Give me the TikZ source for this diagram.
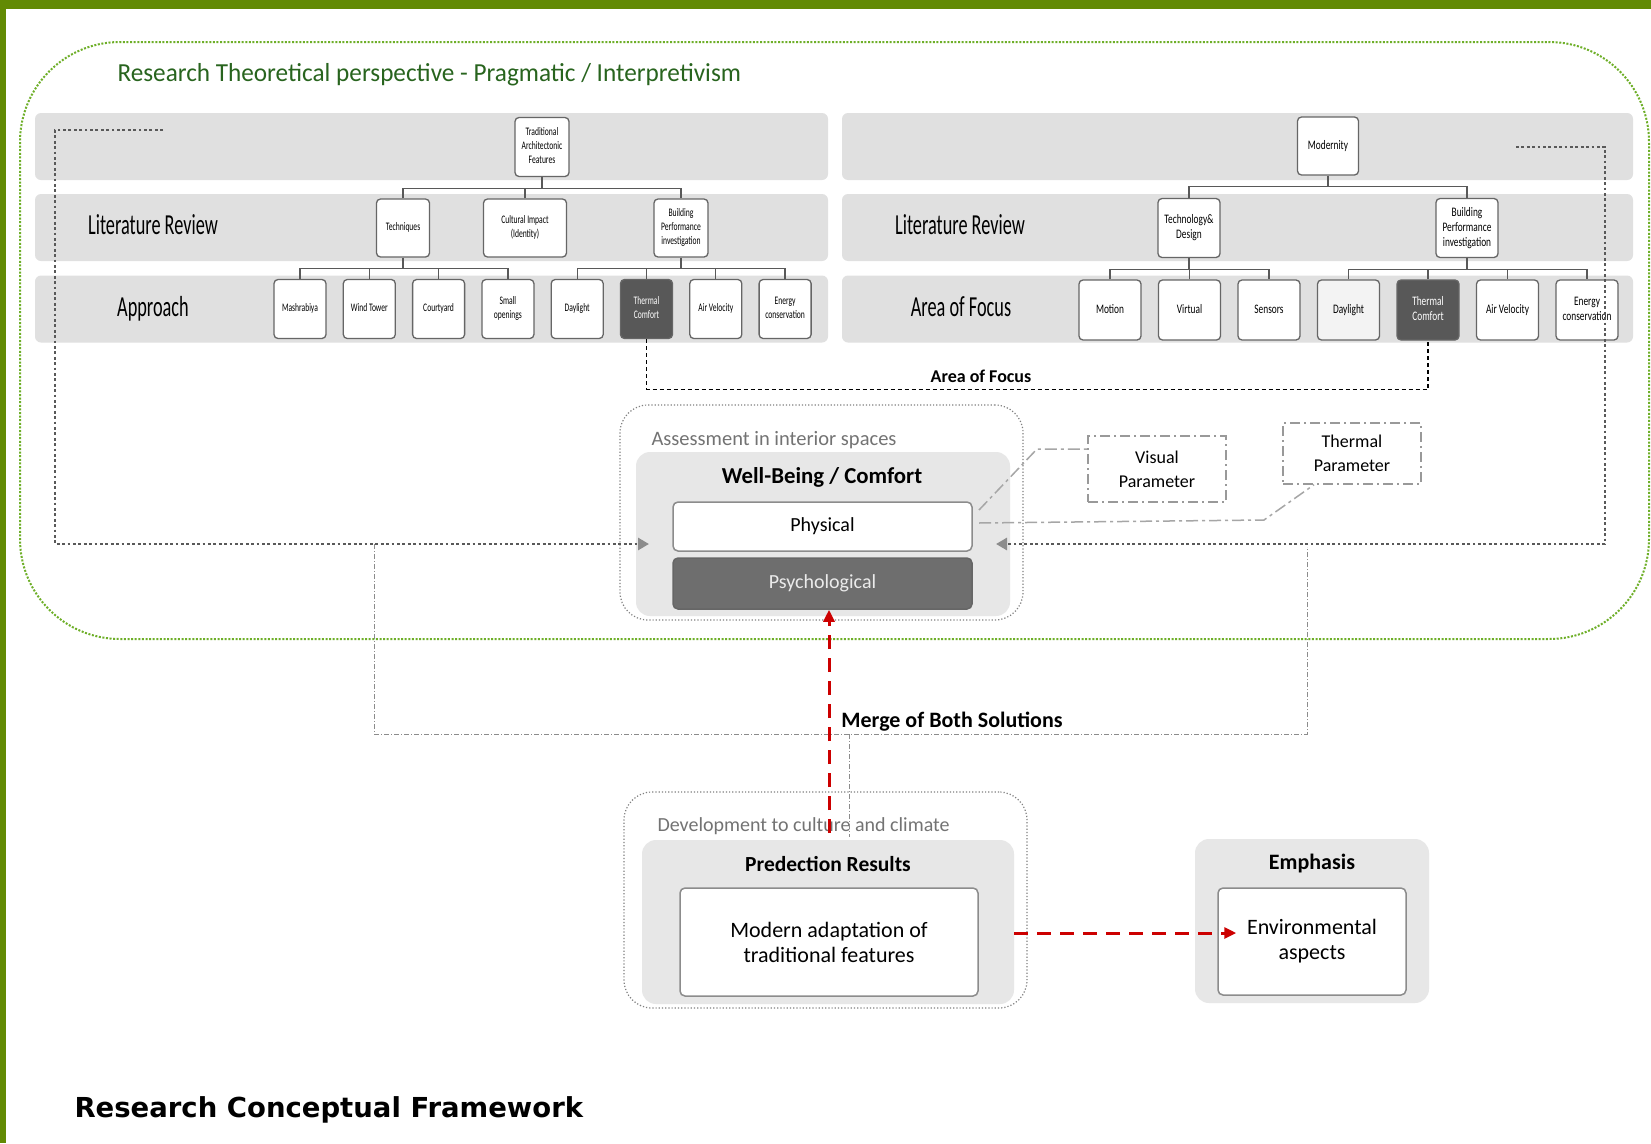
\documentclass[tikz,border=0pt]{standalone}
\usepackage{fontspec}
\setmainfont{Carlito}
\newfontfamily\captionfont{DejaVu Sans}
\usepackage{graphicx}
\usetikzlibrary{positioning,arrows.meta}

\definecolor{framegreen}{RGB}{98,138,4}
\definecolor{dotgreen}{RGB}{110,175,40}
\definecolor{titlegreen}{RGB}{40,100,30}
\definecolor{bandgray}{RGB}{224,224,224}
\definecolor{boxgray}{RGB}{231,231,231}
\definecolor{darkbox}{RGB}{88,88,88}
\definecolor{lightbox}{RGB}{243,243,243}
\definecolor{psychgray}{RGB}{110,110,110}
\definecolor{mergered}{RGB}{204,0,0}

\newcommand{\cond}[2][0.66]{\scalebox{#1}[1]{\begin{tabular}{@{}c@{}}#2\end{tabular}}}

\begin{document}
\begin{tikzpicture}[x=1pt, y=-1pt,
        band/.style={fill=bandgray, rounded corners=6, inner sep=0, minimum height=67},
        leaf/.style={draw=black!60, fill=white, rounded corners=4, line width=1.3, inner sep=0, minimum width=52, minimum height=59, font=\fontsize{11.5}{14}\selectfont},
        leafR/.style={leaf, minimum width=62, minimum height=60, font=\fontsize{13}{15}\selectfont},
        tree/.style={draw=black!65, line width=1.3},
        rowlabel/.style={font=\fontsize{29}{34}\selectfont},
        outerbox/.style={draw=black!50, dotted, line width=1.2, rounded corners=28, inner sep=0},
        graybg/.style={fill=boxgray, rounded corners=14, inner sep=0},
        whitebox/.style={draw=black!45, fill=white, line width=1.5, rounded corners=5, inner sep=0, align=center},
        parambox/.style={draw=black!40, line width=1.5, dash pattern=on 10pt off 4pt on 2pt off 4pt, inner sep=0, align=center, font=\fontsize{18}{24}\selectfont},
        param/.style={draw=black!35, line width=1.5, dash pattern=on 12pt off 4pt on 3pt off 4pt},
        bigdot/.style={draw=black!65, line width=2.8, dash pattern=on 2.8pt off 2.6pt, -{Triangle[length=11pt, width=12pt, color=black!45]}},
        mergeline/.style={draw=black!45, line width=0.9, dash pattern=on 5pt off 2pt on 1pt off 2pt},
        focusline/.style={draw=black, line width=1.3, dash pattern=on 4pt off 3pt},
        redarrow/.style={draw=mergered, line width=3, dash pattern=on 14pt off 9pt, -{Triangle[length=12pt, width=11pt]}},
        boldlabel/.style={font=\bfseries\fontsize{22}{26}\selectfont}
    ]

    \useasboundingbox (0,0) rectangle (1651,1143);
    \fill[white] (0,0) rectangle (1651,1143);
    \fill[framegreen] (0,0) rectangle (1651,9);
    \fill[framegreen] (0,0) rectangle (6,1143);

    % Theoretical perspective
    \draw[dotgreen, line width=2, dash pattern=on 2pt off 1.6pt, rounded corners=100] (20,42) rectangle (1649,639);
    \node[anchor=west, text=titlegreen, font=\fontsize{26}{31}\selectfont] (title) at (114,75) {\scalebox{0.97}[1]{Research Theoretical perspective - Pragmatic / Interpretivism}};

    % Bands
    \foreach \r/\y in {1/146.5, 2/227.5, 3/309} {
        \node[band, minimum width=793] (bandL\r) at (431.5,\y) {};
        \node[band, minimum width=791] (bandR\r) at (1237.5,\y) {};
    }
    \node[rowlabel] (litL) at (153,228) {\cond[0.63]{Literature Review}};
    \node[rowlabel] (appr) at (153,310) {\cond[0.63]{Approach}};
    \node[rowlabel] (litR) at (960,228) {\cond[0.63]{Literature Review}};
    \node[rowlabel] (focus) at (961,310) {\cond[0.63]{Area of Focus}};

    % Traditional tree
    \node[leaf, minimum width=54] (taf) at (542,147) {\cond{Traditional\\Architectonic\\Features}};
    \node[leaf, minimum width=53, minimum height=58] (tech) at (403,228) {\cond{Techniques}};
    \node[leaf, minimum width=83, minimum height=58] (cult) at (525,228) {\cond{Cultural Impact\\(Identity)}};
    \node[leaf, minimum width=54, minimum height=58] (bpl) at (681,228) {\cond{Building\\Performance\\investigation}};
    \foreach \t/\f/\c [count=\i from 0] in {Mashrabiya/white/black, Wind Tower/white/black, Courtyard/white/black, Small\\openings/white/black, Daylight/white/black, Thermal\\Comfort/darkbox/white, Air Velocity/white/black, Energy\\conservation/white/black}
        \node[leaf, fill=\f, text=\c] (al\i) at ({300+69.3*\i},309) {\cond{\t}};

    \draw[tree] (taf.south) -- ++(0,11) coordinate (tafbar);
    \draw[tree] (tech.north) |- (tafbar) -| (bpl.north);
    \draw[tree] (cult.north) -- (cult.north |- tafbar);
    \draw[tree] (tech.south) -- ++(0,11) coordinate (techbar);
    \draw[tree] (al0.north) |- (techbar) -| (al3.north);
    \foreach \i in {1,2} \draw[tree] (al\i.north) -- (al\i.north |- techbar);
    \draw[tree] (bpl.south) -- ++(0,11) coordinate (bplbar);
    \draw[tree] (al4.north) |- (bplbar) -| (al7.north);
    \foreach \i in {5,6} \draw[tree] (al\i.north) -- (al\i.north |- bplbar);

    % Modernity tree
    \node[leafR, minimum width=61, minimum height=58] (modnode) at (1328,146) {\cond[0.72]{Modernity}};
    \node[leafR, minimum height=59] (techd) at (1189,228) {\cond[0.72]{Technology\&\\Design}};
    \node[leafR, minimum height=59] (bpr) at (1467,228) {\cond[0.72]{Building\\Performance\\investigation}};
    \foreach \t/\f/\c [count=\i from 0] in {Motion/white/black, Virtual/white/black, Sensors/white/black, Daylight/lightbox/black, Thermal\\Comfort/darkbox/white, Air Velocity/white/black, Energy\\conservation/white/black}
        \node[leafR, fill=\f, text=\c] (ar\i) at ({1110+79.5*\i},310) {\cond[0.72]{\t}};

    \draw[tree] (modnode.south) -- ++(0,11) coordinate (modbar);
    \draw[tree] (techd.north) |- (modbar) -| (bpr.north);
    \draw[tree] (techd.south) -- ++(0,11) coordinate (techdbar);
    \draw[tree] (ar0.north) |- (techdbar) -| (ar2.north);
    \draw[tree] (ar1.north) -- (ar1.north |- techdbar);
    \draw[tree] (bpr.south) -- ++(0,11) coordinate (bprbar);
    \draw[tree] (ar3.north) |- (bprbar) -| (ar6.north);
    \foreach \i in {4,5} \draw[tree] (ar\i.north) -- (ar\i.north |- bprbar);

    % Area of focus
    \draw[focusline] (al5.south) -- ++(0,50) -| (ar4.south);
    \node[font=\bfseries\fontsize{18}{22}\selectfont] (aof) at (981,376) {Area of Focus};

    % Assessment
    \node[outerbox, minimum width=403, minimum height=215] (assess) at (821.5,512.5) {};
    \node[graybg, minimum width=374, minimum height=164] (wbbg) at (823,534) {};
    \node[anchor=west, text=black!55, font=\fontsize{20.5}{24}\selectfont] (assesslbl) at (648,440) {Assessment in interior spaces};
    \node[font=\bfseries\fontsize{22.8}{27}\selectfont] (wbtitle) at (822,477) {Well-Being / Comfort};
    \node[whitebox, minimum width=299, minimum height=49, font=\fontsize{20}{24}\selectfont] (phys) at (822.5,526.5) {Physical};
    \node[whitebox, fill=psychgray, draw=black!60, text=white!92!black, minimum width=299, minimum height=51, font=\fontsize{20}{24}\selectfont] (psych) at (822.5,583.5) {Psychological};

    \node[parambox, minimum width=138, minimum height=66] (visual) at (1157,469) {Visual\\Parameter};
    \node[parambox, minimum width=138, minimum height=61] (thermal) at (1352,453.5) {Thermal\\Parameter};
    \coordinate (pv) at (979,510);
    \coordinate (pt) at (979,523);
    \draw[param] (pv) -- (1037,449) -- (visual.west |- 0,449);
    \draw[param] (pt) -- (1264,520) -- ([xshift=-38]thermal.south);

    % Loops
    \coordinate (lstart) at (163,130);
    \coordinate (lend) at (649,544);
    \coordinate (rstart) at (1516,147);
    \coordinate (rend) at (996,544);
    \draw[bigdot] (lstart) -- (lstart -| 55,0) |- (lend);
    \draw[bigdot] (rstart) -- (rstart -| 1605,0) |- (rend);

    % Prediction
    \node[outerbox, minimum width=403, minimum height=216] (devbox) at (825.5,900) {};
    \node[graybg, minimum width=372, minimum height=164] (predbg) at (828,922) {};
    \node[anchor=west, text=black!55, font=\fontsize{20}{24}\selectfont] (devlbl) at (654,826) {Development to culture and climate};
    \node[font=\bfseries\fontsize{21.5}{26}\selectfont] (predtitle) at (828,864) {Predection Results};
    \node[whitebox, minimum width=298, minimum height=108, font=\fontsize{22}{25}\selectfont] (adapt) at (829,942) {Modern adaptation of\\traditional features};

    \node[graybg, minimum width=234, minimum height=164] (embg) at (1312,921) {};
    \node[boldlabel] (emtitle) at (1312,863) {Emphasis};
    \node[whitebox, minimum width=188, minimum height=107, font=\fontsize{22}{25}\selectfont] (envbox) at (1312,941.5) {Environmental\\aspects};

    % Merge
    \coordinate (mleft) at (374,544);
    \coordinate (mright) at (1307,547);
    \coordinate (mdown) at (849,837);
    \draw[mergeline] (mleft) |- (mright |- 0,734) -- (mright);
    \draw[mergeline] (mdown |- 0,734) -- (mdown);
    \node[boldlabel] (mergelbl) at (952,722) {Merge of Both Solutions};

    \coordinate (mstart) at (829,833);
    \coordinate (envtip) at ([xshift=19]envbox.west);
    \draw[redarrow] (mstart) -- (mstart |- psych.south);
    \draw[redarrow] (predbg.east |- 0,933) -- (envtip |- 0,933);

    \node[anchor=west, font=\captionfont\bfseries\fontsize{27.5}{33}\selectfont] (caption) at (71,1110) {Research Conceptual Framework};

\end{tikzpicture}
\end{document}
